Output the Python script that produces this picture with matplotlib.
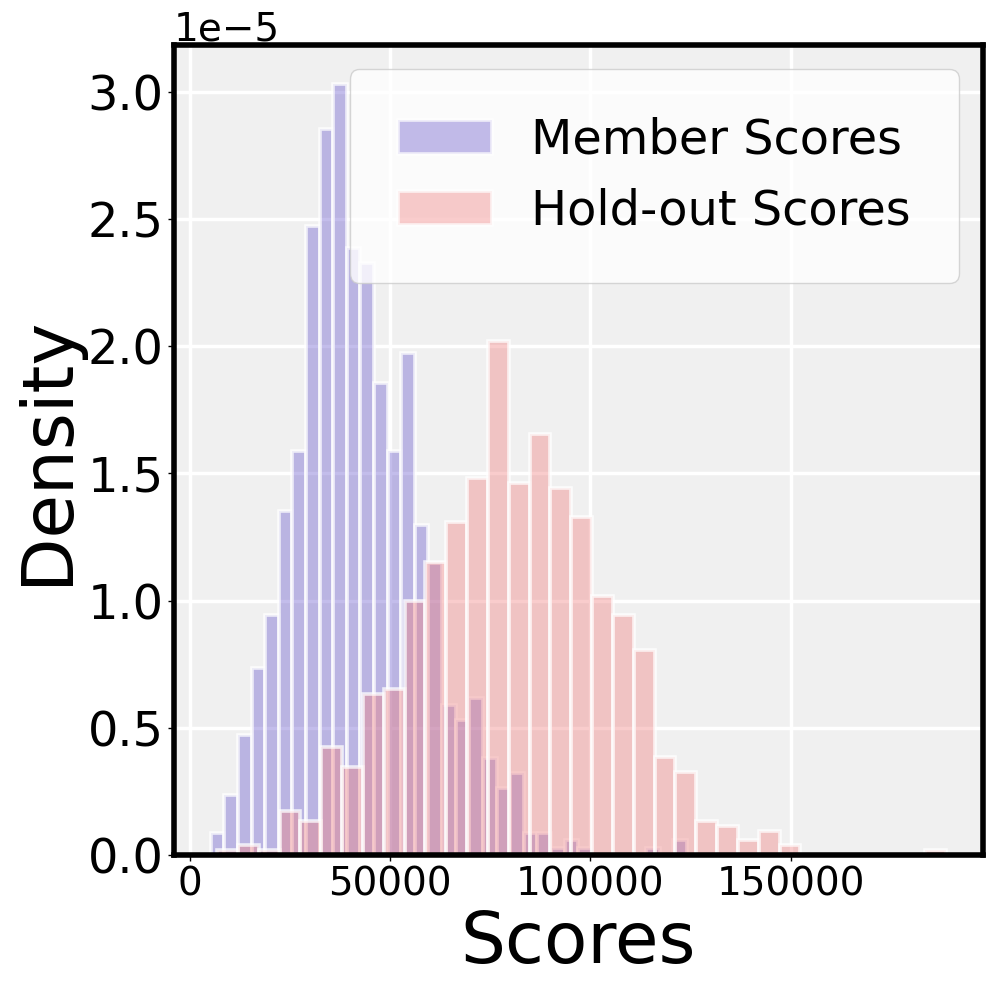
import numpy as np
import matplotlib
matplotlib.use("Agg")
import matplotlib.pyplot as plt
from matplotlib.colors import to_rgba

# ---- data ----
n_bins = 35
member_range = (5213, 124120)
holdout_range = (6785, 188830)
member_counts = [3, 8, 16, 25, 32, 46, 54, 84, 97, 103, 81, 79, 63, 54, 67, 44, 39,
                 20, 18, 21, 13, 9, 11, 3, 3, 1, 2, 1, 0, 0, 0, 0, 1, 0, 2]
holdout_counts = [1, 2, 1, 9, 7, 22, 18, 33, 34, 52, 60, 68, 77, 105, 76, 86, 75,
                  69, 53, 49, 42, 20, 17, 7, 6, 3, 5, 2, 0, 0, 0, 0, 0, 0, 1]
labels = ["Member Scores", "Hold-out Scores"]
xlabel = "Scores"
ylabel = "Density"

member_edges = np.linspace(member_range[0], member_range[1], n_bins + 1)
holdout_edges = np.linspace(holdout_range[0], holdout_range[1], n_bins + 1)

fig = plt.figure(figsize=(9.96, 9.94), dpi=100)
ax = fig.add_axes([0.1747, 0.1398, 0.8122, 0.8149])
ax.set_facecolor("#f0f0f0")
ax.set_axisbelow(True)
ax.grid(True, color="white", linewidth=2.5)

edge = (1, 1, 1, 0.75)
ax.hist((member_edges[:-1] + member_edges[1:]) / 2, bins=member_edges,
        weights=member_counts, density=True,
        color=to_rgba("slateblue", 0.4), edgecolor=edge, linewidth=2.6,
        label=labels[0])
ax.hist((holdout_edges[:-1] + holdout_edges[1:]) / 2, bins=holdout_edges,
        weights=holdout_counts, density=True,
        color=to_rgba("lightcoral", 0.4), edgecolor=edge, linewidth=2.6,
        label=labels[1])

ax.set_xticks([0, 50000, 100000, 150000])
ax.tick_params(axis="x", labelsize=28, length=4, width=1)
ax.tick_params(axis="y", labelsize=34.5, length=4, width=1)
ax.yaxis.get_offset_text().set_fontsize(28)
ax.set_xlabel(xlabel, fontsize=51)
ax.set_ylabel(ylabel, fontsize=51)
for s in ax.spines.values():
    s.set_linewidth(4)
    s.set_color("black")

ax.legend(fontsize=34.5, loc="upper right", borderpad=1.0, labelspacing=0.5,
          handlelength=1.96, handleheight=0.7, handletextpad=0.83,
          framealpha=0.8, edgecolor="0.8", borderaxespad=0.5)

fig.savefig("out.png", dpi=100)
